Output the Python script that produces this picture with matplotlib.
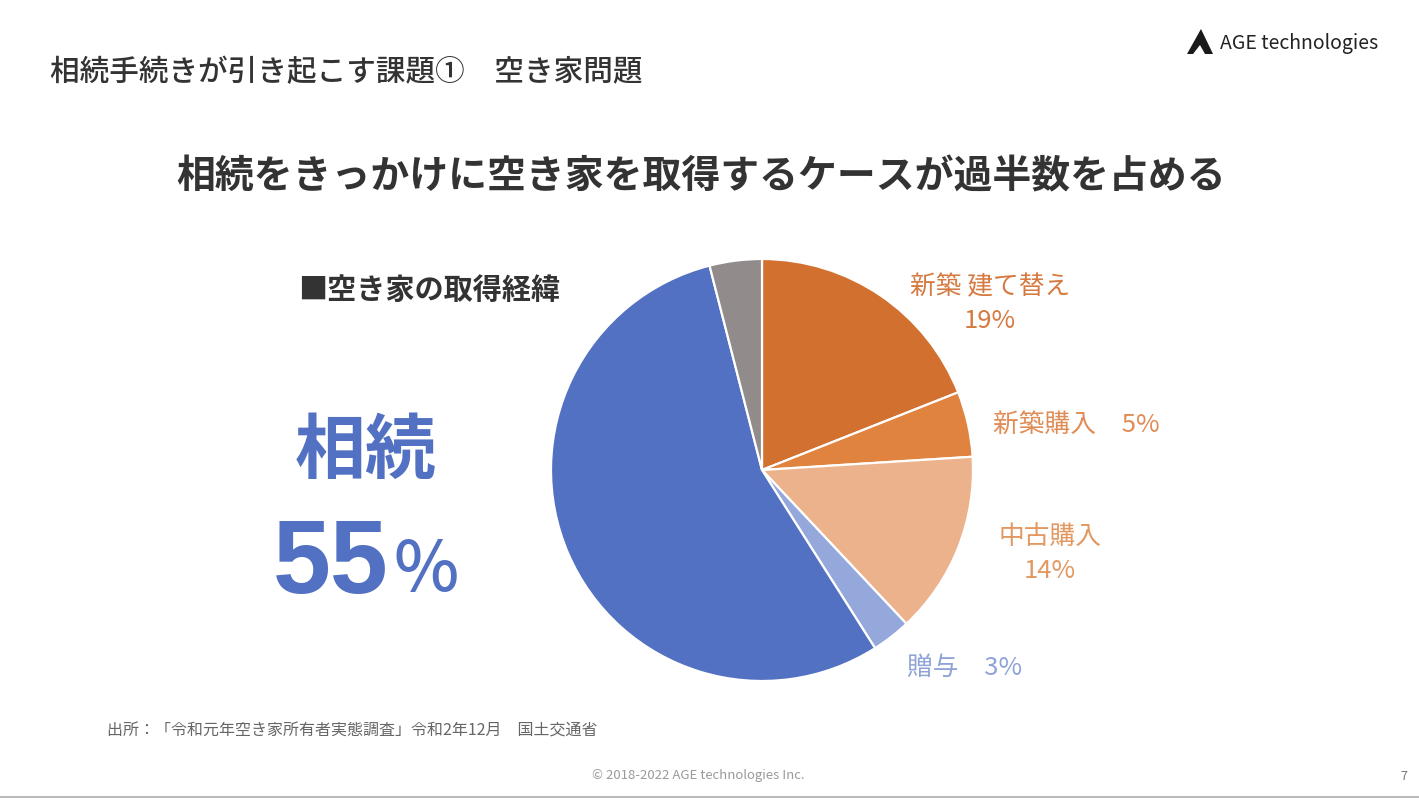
import numpy as np
import matplotlib
matplotlib.use("Agg")
import matplotlib.pyplot as plt
from matplotlib.patches import Polygon

plt.rcParams['font.family'] = ['Noto Sans CJK JP', 'DejaVu Sans']

# data: acquisition route of vacant houses (clockwise from 12 o'clock)
labels = ["新築 建て替え", "新築購入", "中古購入", "贈与", "相続", "その他"]
shares = [19, 5, 14, 3, 55, 4]
colors = ["#D2702F", "#E0833F", "#ECB28C", "#95A8DC", "#5371C2", "#918C8B"]
label_colors = ["#D57A40", "#E08C55", "#E29860", "#8FA3D8"]

W, H = 1419, 801
fig = plt.figure(figsize=(W / 100, H / 100), dpi=100)
fig.patch.set_facecolor("white")


def px(x, y):
    # pixel position (from top-left) -> figure fraction
    return x / W, 1 - y / H


# pie: centre (762, 470), radius ~211 px
cx, cy, r = 762, 470, 211
ax = fig.add_axes([(cx - r) / W, (H - cy - r) / H, 2 * r / W, 2 * r / H])
ax.pie(shares, colors=colors, startangle=90, counterclock=False,
       wedgeprops=dict(edgecolor="white", linewidth=1.6))
ax.set_xlim(-1, 1)
ax.set_ylim(-1, 1)
ax.set_aspect("equal")
ax.axis("off")

# headings
fig.text(*px(50, 73), "相続手続きが引き起こす課題①　空き家問題", fontsize=21.3,
         fontweight="medium", color="#333333", va="center", ha="left")
fig.text(*px(701, 177), "相続をきっかけに空き家を取得するケースが過半数を占める",
         fontsize=28, fontweight="bold", color="#333333", va="center", ha="center")
fig.text(*px(298, 290), "■空き家の取得経緯", fontsize=21, fontweight="bold",
         color="#333333", va="center", ha="left")

# big callout
fig.text(*px(366, 452), labels[4], fontsize=51, fontweight="bold",
         color="#5371C2", va="center", ha="center")
fig.text(*px(273, 566), "55", fontsize=75, fontweight="bold", family="Liberation Sans",
         color="#5371C2", va="center", ha="left")
fig.text(*px(394, 571), "%", fontsize=50, fontweight="medium",
         color="#5371C2", va="center", ha="left")

# slice labels
lab_fs = 18.5
fig.text(*px(990, 287), labels[0], fontsize=lab_fs, color=label_colors[0], ha="center", va="center")
fig.text(*px(990, 321), f"{shares[0]}%", fontsize=lab_fs, color=label_colors[0], ha="center", va="center")
fig.text(*px(993, 425), f"{labels[1]}　{shares[1]}%", fontsize=lab_fs, color=label_colors[1],
         ha="left", va="center")
fig.text(*px(1050, 537), labels[2], fontsize=lab_fs, color=label_colors[2], ha="center", va="center")
fig.text(*px(1050, 571), f"{shares[2]}%", fontsize=lab_fs, color=label_colors[2], ha="center", va="center")
fig.text(*px(907, 668), f"{labels[3]}　{shares[3]}%", fontsize=lab_fs, color=label_colors[3],
         ha="left", va="center")

# source / footer
fig.text(*px(107, 731), "出所：「令和元年空き家所有者実態調査」令和2年12月　国土交通省",
         fontsize=11.5, color="#666666", ha="left", va="center")
fig.text(*px(698, 776), "© 2018-2022 AGE technologies Inc.", fontsize=9.5,
         color="#9A9A9A", ha="center", va="center")
fig.text(*px(1404, 776), "7", fontsize=9, color="#777777", ha="center", va="center")

# logo
tri = [px(1187, 54), px(1201, 29), px(1213, 54)]
fig.patches.append(Polygon(tri, closed=True, transform=fig.transFigure,
                           facecolor="#1A1A1A", edgecolor="none"))
notch = [px(1193, 54), px(1200, 45), px(1205, 54)]
fig.patches.append(Polygon(notch, closed=True, transform=fig.transFigure,
                           facecolor="white", edgecolor="none"))
fig.text(*px(1220, 44), "AGE technologies", fontsize=14, color="#222222",
         ha="left", va="center")

# bottom edge line
fig.add_artist(plt.Line2D([0, 1], [1 - 797 / H, 1 - 797 / H], transform=fig.transFigure,
                          color="#BBBBBB", linewidth=1.5))

fig.savefig("out.png", dpi=100, facecolor="white")
